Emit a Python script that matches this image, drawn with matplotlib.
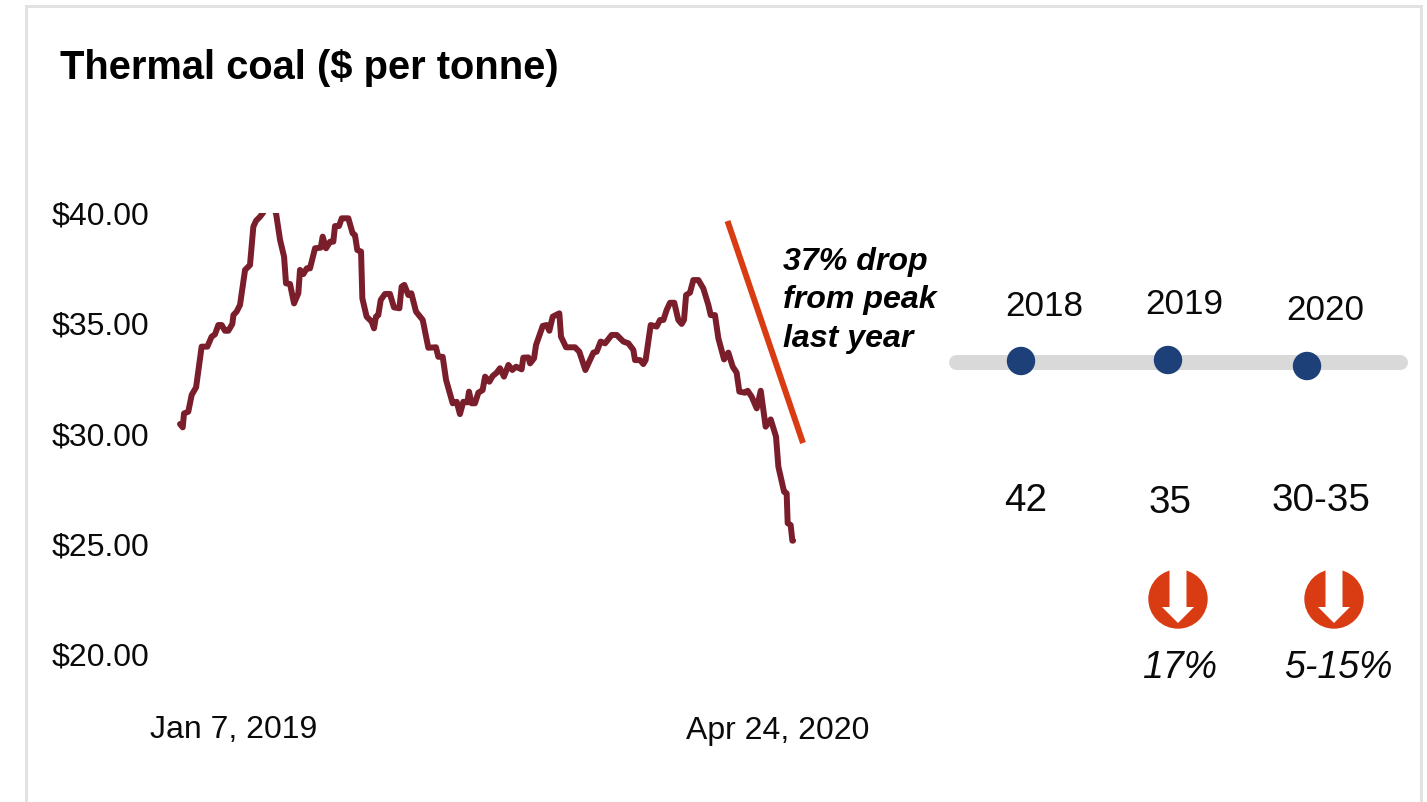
import matplotlib
matplotlib.use('Agg')
import matplotlib.pyplot as plt
from matplotlib.patches import Circle, Polygon, Rectangle
from matplotlib.transforms import ScaledTranslation

plt.rcParams['font.family'] = ['Liberation Sans', 'DejaVu Sans']

# days since Jan 7, 2019 and price
days = [0, 2.1, 3.1, 6.4, 9, 12.4, 16.7, 21.1, 24.4, 27, 29.6, 32.2, 34.7, 37.3, 40.4, 41.2, 43.7, 46.3, 50.2, 54,
        56.6, 58.7, 61.7, 63.8, 69, 74.1, 77.2, 80.3, 81.8, 84.9, 88, 91.3, 92.6, 95.2, 97.8, 100.3, 104.2, 108.6,
        110.1, 112.7, 115.8, 118.3, 119.6, 122.7, 124.8, 129.9, 133.2, 135, 136.8, 139.7, 140.7, 144, 147.9, 149.7,
        151.2, 153, 154.9, 158.2, 162, 165.1, 169.3, 171, 173.1, 176.2, 178.5, 182.1, 187.3, 191.6, 197.5, 199.3,
        202.7, 205.3, 210.4, 213.5, 216, 218.6, 221.7, 223, 225, 227.6, 230.2, 233.5, 235.4, 238.7, 241.3, 244.4,
        246.9, 250, 253.4, 256.4, 259.3, 263.6, 264.9, 268.8, 270.1, 273.2, 274.7, 279.9, 282.9, 285, 287.6, 292.7,
        294, 297.9, 304.8, 308.1, 312.8, 319, 321.5, 324.6, 328, 333.1, 337, 342.1, 346, 349.8, 351.1, 355, 357.5,
        359.3, 363.2, 367.8, 370.4, 373, 375.5, 378.1, 381.4, 384.5, 387.1, 388.9, 390.5, 393.5, 396.1, 400, 403.8,
        407.7, 409.5, 412.8, 415.4, 419.8, 423.1, 426.5, 429.5, 431.6, 436, 438, 441.1, 445, 448.1, 451.9, 455.8,
        459.9, 461.7, 466.1, 468.1, 468.9, 471.2, 472.5, 473]
price = [30.52, 30.37, 31.0, 31.08, 31.84, 32.18, 34.03, 34.03, 34.48, 34.59, 35.01, 35.01, 34.75, 34.75, 35.06, 35.46,
         35.62, 35.92, 37.51, 37.73, 39.47, 39.74, 39.92, 40.08, 40.6, 40.08, 38.87, 38.11, 36.9, 36.87, 35.99, 36.45,
         37.51, 37.32, 37.58, 37.58, 38.49, 38.52, 39.02, 38.49, 38.79, 38.79, 39.5, 39.5, 39.85, 39.85, 39.17, 39.09,
         38.41, 38.34, 36.22, 35.39, 35.16, 34.86, 35.39, 35.46, 36.15, 36.42, 36.42, 35.81, 35.77, 36.75, 36.83,
         36.37, 36.45, 35.62, 35.24, 33.98, 34.0, 33.57, 33.57, 32.52, 31.46, 31.53, 30.97, 31.53, 31.5, 31.99, 31.46,
         31.46, 31.94, 32.06, 32.67, 32.44, 32.7, 32.85, 33.05, 32.67, 33.2, 32.97, 33.12, 33.0, 33.53, 33.54, 33.27,
         33.5, 34.1, 34.97, 35.01, 34.75, 35.39, 35.54, 34.48, 34.0, 34.0, 33.8, 32.97, 33.76, 33.8, 34.26, 34.18,
         34.56, 34.56, 34.26, 34.18, 33.88, 33.42, 33.42, 33.24, 33.42, 35.01, 34.94, 35.24, 35.24, 35.69, 36.02,
         36.02, 35.24, 35.06, 35.24, 36.37, 36.48, 37.05, 37.05, 36.67, 35.92, 35.46, 35.46, 34.41, 33.45, 33.76,
         33.12, 32.85, 31.99, 31.94, 32.03, 31.76, 31.23, 32.03, 30.4, 30.73, 29.95, 28.59, 27.45, 27.38, 26.02,
         25.94, 25.23, 25.23]
yticks = [20, 25, 30, 35, 40]
ytick_labels = ['$20.00', '$25.00', '$30.00', '$35.00', '$40.00']
date_labels = ['Jan 7, 2019', 'Apr 24, 2020']
years = ['2018', '2019', '2020']
forecast = ['42', '35', '30-35']
changes = ['17%', '5-15%']

W, H = 1427, 802
RED = '#7b1e2b'
ORANGE = '#d93c13'
NAVY = '#1d4079'
INK = '#0a0a0a'

fig = plt.figure(figsize=(W / 100, H / 100), dpi=100)

# line chart, axes box is in pixels of the picture
ax = fig.add_axes([180 / W, 1 - 656 / H, 613 / W, 441 / H])
line, = ax.plot(days, price, color=RED, lw=4.3, solid_joinstyle='round', solid_capstyle='round')
# only the top is cut off, the line ends stay whole
line.set_clip_path(Rectangle((-0.02, -0.02), 1.04, 1.024, transform=ax.transAxes))
ax.set_xlim(0, 473)
ax.set_ylim(20, 40)
ax.set_xticks([])
ax.set_yticks(yticks)
ax.set_yticklabels(ytick_labels)
ax.tick_params(axis='y', length=0, pad=22, labelsize=23, labelcolor=INK)
up = ScaledTranslation(0, 2 / 100, fig.dpi_scale_trans)
for lbl in ax.get_yticklabels():
    lbl.set_transform(lbl.get_transform() + up)
for s in ax.spines.values():
    s.set_visible(False)
ax.patch.set_alpha(0)

# everything else goes on a full figure layer in pixel coordinates
ov = fig.add_axes([0, 0, 1, 1], zorder=3)
ov.set_xlim(0, W)
ov.set_ylim(H, 0)
ov.axis('off')

ov.plot([26, 26, 1421, 1421], [H, 6, 6, H], color='#e2e2e2', lw=2.2, solid_joinstyle='miter')
ov.text(60, 68, 'Thermal coal ($ per tonne)', fontsize=28.7, fontweight='bold', va='center', color='black')

ov.text(234, 730, date_labels[0], fontsize=23, ha='center', va='center', color=INK)
ov.text(778, 731, date_labels[1], fontsize=23, ha='center', va='center', color=INK)

ov.plot([727.5, 803], [221, 443], color=ORANGE, lw=4.3, solid_capstyle='butt')
for y, txt in zip([262, 300, 339], ['37% drop', 'from peak', 'last year']):
    ov.text(783, y, txt, fontsize=23.1, fontweight='bold', style='italic', va='center', color='black')

# timeline on the right
ov.plot([956, 1400], [362, 362], color='#d9d9d9', lw=10.8, solid_capstyle='round')
for x, y in zip([1021, 1168, 1307], [361, 360, 366]):
    ov.add_patch(Circle((x, y), 13.5, color=NAVY, zorder=4))
for x, y, t in zip([1044, 1184, 1325], [306, 304, 310], years):
    ov.text(x, y, t, fontsize=25.2, ha='center', va='center', color=INK)
for x, y, t in zip([1026, 1170, 1321], [501, 503, 501], forecast):
    ov.text(x, y, t, fontsize=27.8, ha='center', va='center', color=INK)

# down arrow badges
for x, tx, t in zip([1178, 1334], [1180, 1338], changes):
    ov.add_patch(Circle((x, 599), 29, color=ORANGE, zorder=4))
    ov.add_patch(Polygon([(x - 8.5, 568), (x + 8.5, 568), (x + 8.5, 607), (x + 16, 607), (x, 623), (x - 16, 607),
                          (x - 8.5, 607)], closed=True, color='white', lw=0, zorder=5))
    ov.text(tx, 668, t, fontsize=27, style='italic', ha='center', va='center', color=INK)

fig.savefig('out.png', dpi=100)
